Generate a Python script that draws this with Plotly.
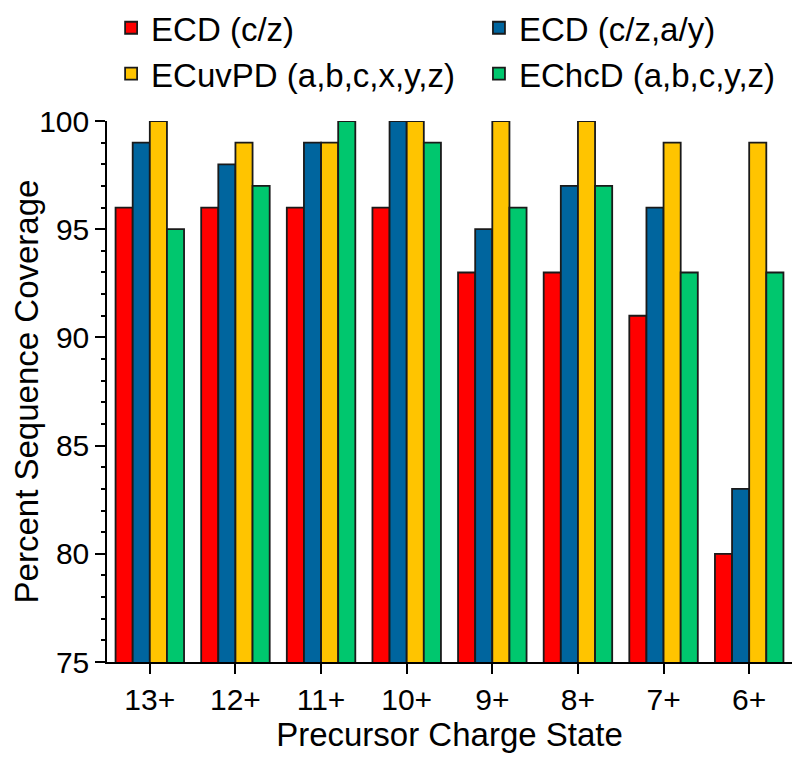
import plotly.graph_objects as go

categories = ["13+", "12+", "11+", "10+", "9+", "8+", "7+", "6+"]
series_names = ["ECD (c/z)", "ECD (c/z,a/y)", "ECuvPD (a,b,c,x,y,z)", "EChcD (a,b,c,y,z)"]
ecd_cz = [96, 96, 96, 96, 93, 93, 91, 80]
ecd_czay = [99, 98, 99, 100, 95, 97, 96, 83]
ecuvpd = [100, 99, 99, 100, 100, 100, 99, 99]
echcd = [95, 97, 100, 99, 96, 97, 93, 93]
colors = ["#FF0000", "#00659E", "#FFC400", "#00C76E"]
legends = ["legend", "legend2", "legend", "legend2"]

FONT = "Liberation Sans, Arial, sans-serif"

fig = go.Figure()
for i, (name, vals) in enumerate(zip(series_names, [ecd_cz, ecd_czay, ecuvpd, echcd])):
    fig.add_trace(go.Bar(
        x=categories, y=vals, name=name,
        marker=dict(color=colors[i], line=dict(color="#1a1a1a", width=1.8)),
        legend=legends[i], legendgroup=f"g{i}",
    ))

fig.update_layout(
    width=792, height=752,
    margin=dict(l=99, r=8, t=113, b=98, autoexpand=False),
    paper_bgcolor="white", plot_bgcolor="white",
    barmode="group", bargap=0.2, bargroupgap=0,
    font=dict(family=FONT, color="black"),
    legend=dict(x=0.006, y=1.224, xanchor="left", yanchor="top",
                font=dict(size=33, family=FONT), tracegroupgap=0,
                bgcolor="rgba(0,0,0,0)", itemwidth=30),
    legend2=dict(x=0.543, y=1.224, xanchor="left", yanchor="top",
                 font=dict(size=33, family=FONT), tracegroupgap=0,
                 bgcolor="rgba(0,0,0,0)", itemwidth=30),
    showlegend=True,
)
fig.update_xaxes(
    range=[-0.5, 7.5], showline=True, linecolor="black", linewidth=1.5,
    ticks="outside", ticklen=10, tickwidth=1.5, tickcolor="black",
    tickfont=dict(size=30), showgrid=False, automargin=False,
    title=dict(text="Precursor Charge State", font=dict(size=33), standoff=6),
)
fig.update_yaxes(
    range=[75, 100], dtick=5, tick0=75, showline=True, linecolor="black", linewidth=1.5,
    ticks="outside", ticklen=10, tickwidth=1.5, tickcolor="black",
    tickfont=dict(size=30), showgrid=False, zeroline=False, automargin=False,
    minor=dict(dtick=1, ticks="outside", ticklen=4, tickwidth=1.5, tickcolor="black", showgrid=False),
    title=dict(text="Percent Sequence Coverage", font=dict(size=33), standoff=24),
)

fig.write_html("out.html")
